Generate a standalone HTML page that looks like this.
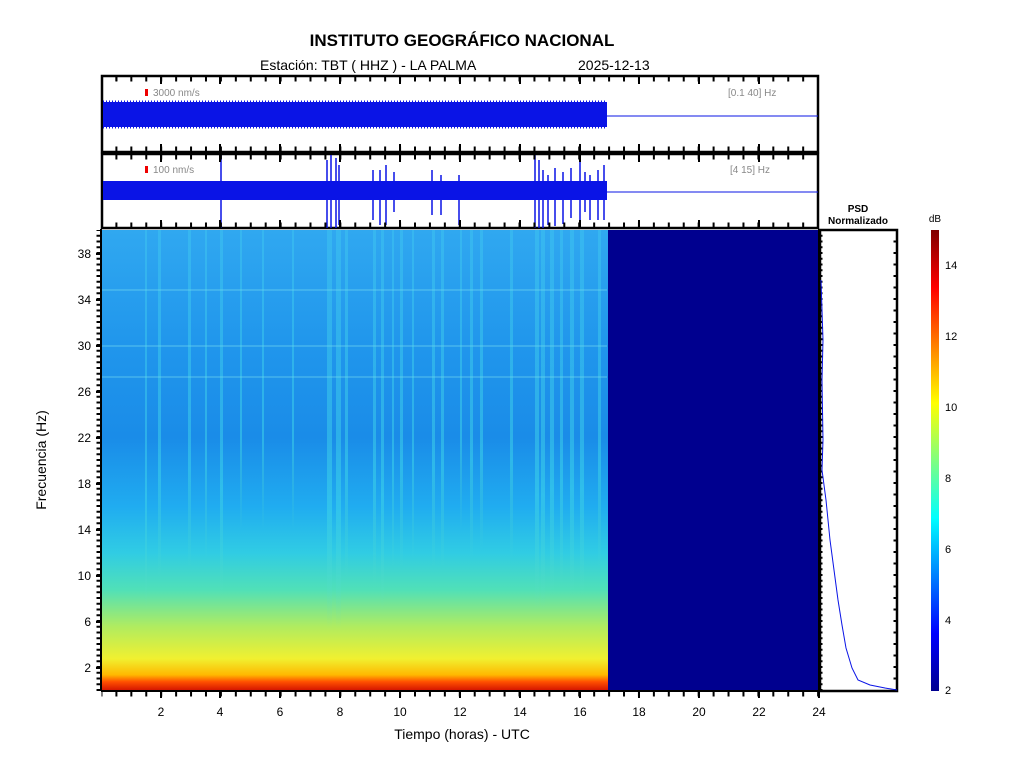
<!DOCTYPE html>
<html><head><meta charset="utf-8"><style>
body{margin:0;background:#fff;width:1024px;height:768px;overflow:hidden;font-family:"Liberation Sans",Arial,sans-serif}
</style></head><body>
<svg width="1024" height="768" xmlns="http://www.w3.org/2000/svg" font-family="Liberation Sans, Arial, sans-serif">
<defs>
<linearGradient id="sp" x1="0" y1="1" x2="0" y2="0">
<stop offset="0" stop-color="#d01000"/>
<stop offset="0.02" stop-color="#ff5000"/>
<stop offset="0.035" stop-color="#ffb800"/>
<stop offset="0.07" stop-color="#f0f030"/>
<stop offset="0.14" stop-color="#b0ec60"/>
<stop offset="0.22" stop-color="#50e0b8"/>
<stop offset="0.3" stop-color="#30cce4"/>
<stop offset="0.4" stop-color="#20acf0"/>
<stop offset="0.55" stop-color="#1a8ce8"/>
<stop offset="0.75" stop-color="#2096ec"/>
<stop offset="1" stop-color="#30a8f0"/>
</linearGradient>
<linearGradient id="cb" x1="0" y1="1" x2="0" y2="0">
<stop offset="0" stop-color="#00008f"/>
<stop offset="0.125" stop-color="#0000ff"/>
<stop offset="0.375" stop-color="#00ffff"/>
<stop offset="0.625" stop-color="#ffff00"/>
<stop offset="0.875" stop-color="#ff0000"/>
<stop offset="1" stop-color="#800000"/>
</linearGradient>
<linearGradient id="st" x1="0" y1="1" x2="0" y2="0">
<stop offset="0" stop-color="#60e0c0" stop-opacity="0"/>
<stop offset="0.3" stop-color="#40d8e8" stop-opacity="0.5"/>
<stop offset="1" stop-color="#40c8f0" stop-opacity="0.45"/>
</linearGradient>
</defs>
<text x="462" y="46" font-size="17" font-weight="bold" text-anchor="middle">INSTITUTO GEOGRÁFICO NACIONAL</text>
<text x="260" y="70" font-size="14">Estación:  TBT ( HHZ ) - LA PALMA</text>
<text x="578" y="70" font-size="14">2025-12-13</text>

<!-- panel 1 -->
<rect x="102" y="76" width="716" height="76" fill="#fff" stroke="#000" stroke-width="2.5"/>
<rect x="103" y="102" width="504" height="25" fill="#0a14e6"/>
<path d="M103 102 l504 0 M103 127 l504 0" stroke="#0a14e6" stroke-width="3" stroke-dasharray="1 2"/>
<line x1="607" y1="116" x2="818" y2="116" stroke="#0a14e6" stroke-width="1"/>
<rect x="145" y="89" width="3" height="7" fill="#e00"/>
<text x="153" y="96" font-size="10" fill="#888">3000 nm/s</text>
<text x="728" y="96" font-size="10" fill="#888">[0.1 40] Hz</text>
<!-- panel 2 -->
<rect x="102" y="154" width="716" height="74" fill="#fff" stroke="#000" stroke-width="2.5"/>
<rect x="103" y="181" width="504" height="19" fill="#0a14e6"/>
<line x1="607" y1="192" x2="818" y2="192" stroke="#0a14e6" stroke-width="1"/>
<g stroke="#0a14e6" stroke-width="1.5">
<path d="M221 155v73M327 160v68M331 155v73M336 158v70M339 165v60M373 170v50M380 170v55M386 165v60M394 172v40M432 170v45M441 175v40M459 175v50M535 155v73M539 160v68M543 170v58M548 175v50M555 168v58M563 172v52M571 168v50M580 160v62M585 172v40M590 175v45M598 170v50M604 165v55"/>
</g>
<rect x="145" y="166" width="3" height="7" fill="#e00"/>
<text x="153" y="173" font-size="10" fill="#888">100 nm/s</text>
<text x="730" y="173" font-size="10" fill="#888">[4 15] Hz</text>
<!-- panel ticks -->
<g stroke="#000" stroke-width="2">
<path d="M116.4 77v4" stroke-dasharray="0"/>
<line x1="101.5" y1="79" x2="819" y2="79" stroke-width="5" stroke-dasharray="2 12.93" stroke-dashoffset="-13.9"/>
<line x1="101.5" y1="149" x2="819" y2="149" stroke-width="5" stroke-dasharray="2 12.93" stroke-dashoffset="-13.9"/>
<line x1="101.5" y1="157" x2="819" y2="157" stroke-width="5" stroke-dasharray="2 12.93" stroke-dashoffset="-13.9"/>
<line x1="101.5" y1="225" x2="819" y2="225" stroke-width="5" stroke-dasharray="2 12.93" stroke-dashoffset="-13.9"/>
<path d="M161 76v8M220 76v8M280 76v8M340 76v8M400 76v8M460 76v8M520 76v8M580 76v8M639 76v8M699 76v8M759 76v8 M161 154v8M220 154v8M280 154v8M340 154v8M400 154v8M460 154v8M520 154v8M580 154v8M639 154v8M699 154v8M759 154v8 M161 144v8M220 144v8M280 144v8M340 144v8M400 144v8M460 144v8M520 144v8M580 144v8M639 144v8M699 144v8M759 144v8 M161 220v8M220 220v8M280 220v8M340 220v8M400 220v8M460 220v8M520 220v8M580 220v8M639 220v8M699 220v8M759 220v8"/>
</g>

<!-- spectrogram -->
<rect x="102" y="230" width="506" height="461" fill="url(#sp)"/>
<g fill="url(#st)">
<rect x="145" y="230" width="2" height="380"/><rect x="158" y="230" width="3" height="350"/>
<rect x="188" y="230" width="3" height="340"/><rect x="205" y="230" width="2" height="330"/>
<rect x="220" y="230" width="3" height="370"/><rect x="240" y="230" width="2" height="300"/>
<rect x="262" y="230" width="2" height="300"/><rect x="292" y="230" width="2" height="300"/>
<rect x="327" y="230" width="5" height="400"/><rect x="336" y="230" width="5" height="400"/>
<rect x="345" y="230" width="3" height="350"/><rect x="373" y="230" width="3" height="360"/>
<rect x="381" y="230" width="3" height="380"/><rect x="392" y="230" width="2" height="340"/>
<rect x="400" y="230" width="3" height="340"/><rect x="412" y="230" width="2" height="330"/>
<rect x="432" y="230" width="3" height="340"/><rect x="441" y="230" width="3" height="340"/>
<rect x="460" y="230" width="2" height="300"/><rect x="470" y="230" width="3" height="330"/>
<rect x="480" y="230" width="3" height="320"/><rect x="510" y="230" width="3" height="330"/>
<rect x="535" y="230" width="4" height="380"/><rect x="541" y="230" width="4" height="380"/>
<rect x="550" y="230" width="4" height="370"/><rect x="560" y="230" width="3" height="360"/>
<rect x="570" y="230" width="4" height="370"/><rect x="580" y="230" width="4" height="370"/>
<rect x="598" y="230" width="3" height="340"/>
</g>
<g stroke="#70d8f0" stroke-width="2" opacity="0.35">
<line x1="102" y1="377" x2="607" y2="377"/><line x1="102" y1="290" x2="607" y2="290"/><line x1="102" y1="346" x2="607" y2="346"/>
</g>
<rect x="608" y="230" width="211" height="461" fill="#00008f"/>
<line x1="101" y1="229" x2="101" y2="691" stroke="#000" stroke-width="2"/>
<line x1="101" y1="691" x2="820" y2="691" stroke="#000" stroke-width="2"/>
<line x1="819" y1="229" x2="819" y2="691" stroke="#000" stroke-width="2"/>
<g stroke="#000" stroke-width="2">
<path d="M161 691v7M220 691v7M280 691v7M340 691v7M400 691v7M460 691v7M520 691v7M580 691v7M639 691v7M699 691v7M759 691v7M819 691v7"/>
<line x1="101.5" y1="694" x2="819" y2="694" stroke-width="5" stroke-dasharray="2 12.93" stroke-dashoffset="-13.9"/>
<path d="M96 254h6M96 300h6M96 346h6M96 392h6M96 438h6M96 484h6M96 530h6M96 576h6M96 622h6M96 668h6"/>
<line x1="99" y1="691" x2="99" y2="230" stroke-width="5" stroke-dasharray="2 3.75"/>
<line x1="821" y1="691" x2="821" y2="230" stroke="#000" stroke-width="3" stroke-dasharray="2 3.75"/>
<line x1="895" y1="691" x2="895" y2="230" stroke="#000" stroke-width="3" stroke-dasharray="2 9.5"/>
</g>
<g font-size="12" text-anchor="middle">
<text x="161" y="716">2</text><text x="220" y="716">4</text><text x="280" y="716">6</text><text x="340" y="716">8</text><text x="400" y="716">10</text><text x="460" y="716">12</text><text x="520" y="716">14</text><text x="580" y="716">16</text><text x="639" y="716">18</text><text x="699" y="716">20</text><text x="759" y="716">22</text><text x="819" y="716">24</text>
</g>
<g font-size="12" text-anchor="end">
<text x="91" y="258">38</text><text x="91" y="304">34</text><text x="91" y="350">30</text><text x="91" y="396">26</text><text x="91" y="442">22</text><text x="91" y="488">18</text><text x="91" y="534">14</text><text x="91" y="580">10</text><text x="91" y="626">6</text><text x="91" y="672">2</text>
</g>
<text x="462" y="739" font-size="14" text-anchor="middle">Tiempo (horas) - UTC</text>
<text transform="translate(46,460) rotate(-90)" font-size="14" text-anchor="middle">Frecuencia  (Hz)</text>

<!-- PSD -->
<text x="858" y="212" font-size="10" font-weight="bold" text-anchor="middle">PSD</text>
<text x="858" y="224" font-size="10" font-weight="bold" text-anchor="middle">Normalizado</text>
<rect x="820" y="230" width="77" height="461" fill="none" stroke="#000" stroke-width="2.5"/>
<polyline fill="none" stroke="#0a14e6" stroke-width="1" points="821,280 823,340 822,380 823,440 822,470 826,500 830,540 834,570 838,600 842,625 846,648 852,668 858,680 870,685 885,688 897,690"/>

<!-- colorbar -->
<rect x="931" y="230" width="8" height="461" fill="url(#cb)"/>
<text x="935" y="222" font-size="10" text-anchor="middle">dB</text>
<g font-size="11">
<text x="945" y="694">2</text><text x="945" y="624">4</text><text x="945" y="553">6</text><text x="945" y="482">8</text><text x="945" y="411">10</text><text x="945" y="340">12</text><text x="945" y="269">14</text>
</g>
</svg>
</body></html>
